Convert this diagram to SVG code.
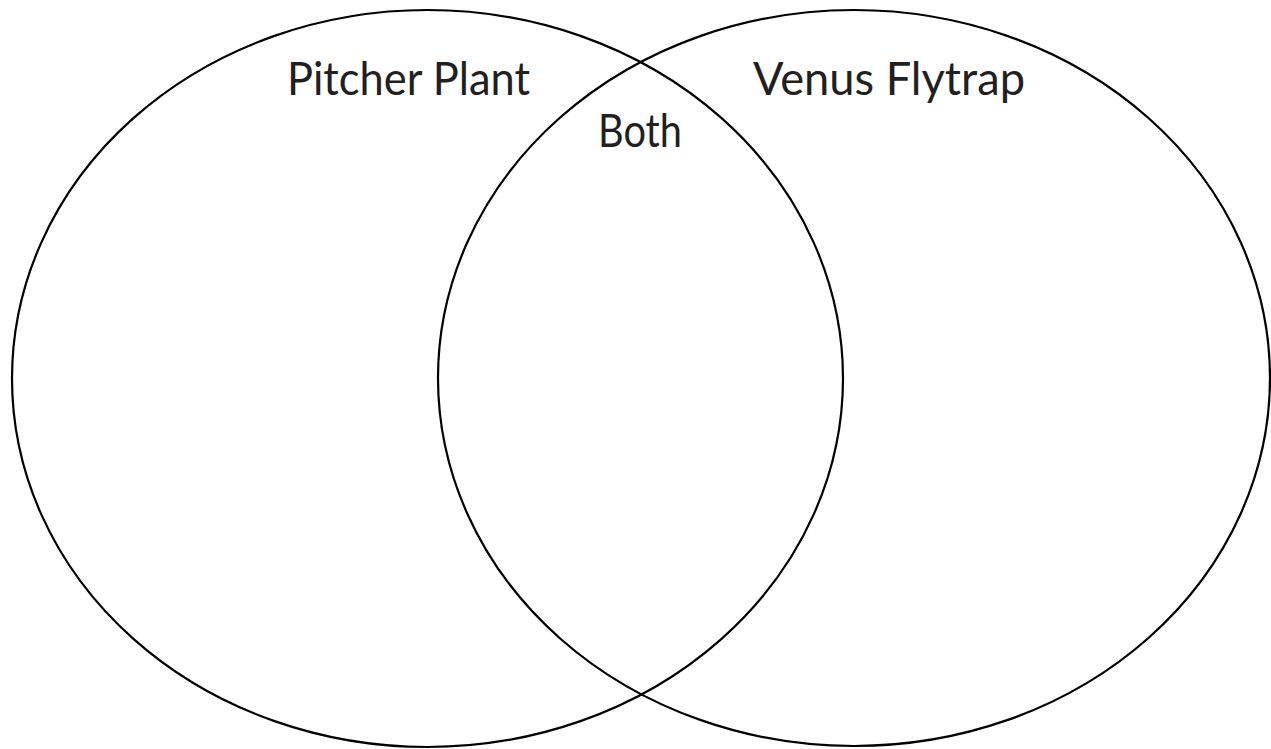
<svg xmlns="http://www.w3.org/2000/svg" width="1271" height="749" viewBox="0 0 1271 749">
<style>
.c{fill:none;stroke:#000;stroke-width:2.2}
.t{font-family:Lato,"Liberation Sans",sans-serif;font-size:46px;fill:#231f20}
</style>
<rect width="1271" height="749" fill="#fff"/>
<g id="pitcher-plant">
<ellipse class="c" cx="427.5" cy="378.5" rx="415.5" ry="368.5"/>
<text class="t" x="287" y="95" textLength="243" lengthAdjust="spacingAndGlyphs">Pitcher Plant</text>
</g>
<g id="venus-flytrap">
<ellipse class="c" cx="854" cy="378" rx="416" ry="368"/>
<text class="t" x="753" y="95" textLength="272" lengthAdjust="spacingAndGlyphs">Venus Flytrap</text>
</g>
<g id="both">
<text class="t" x="598" y="147" textLength="84" lengthAdjust="spacingAndGlyphs">Both</text>
</g>
<g id="connectors"/>
</svg>
